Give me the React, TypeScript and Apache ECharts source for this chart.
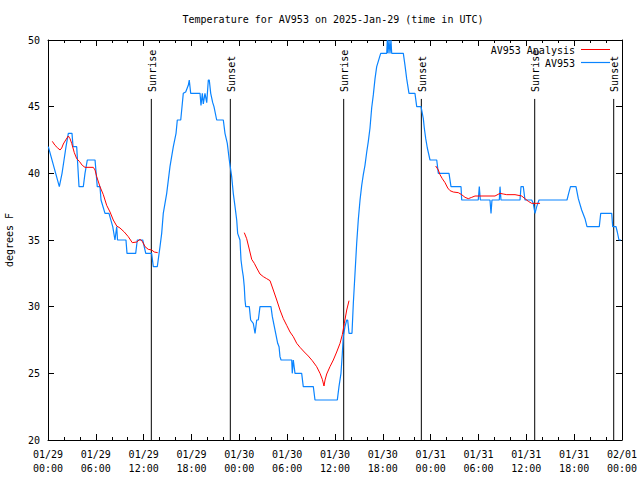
import React, { useEffect, useRef } from "react";
import * as echarts from "echarts";

const FONT = '"DejaVu Sans Mono", "Liberation Mono", monospace';

const titleText = "Temperature for AV953 on 2025-Jan-29 (time in UTC)";
const yAxisName = "degrees F";

// x axis: hours since 2025-01-29 00:00 UTC
const xTickLabels = [
  "01/29\n00:00", "01/29\n06:00", "01/29\n12:00", "01/29\n18:00",
  "01/30\n00:00", "01/30\n06:00", "01/30\n12:00", "01/30\n18:00",
  "01/31\n00:00", "01/31\n06:00", "01/31\n12:00", "01/31\n18:00",
  "02/01\n00:00",
];

// AV953 observations
const obsHours = [
  0.04, 1.42, 1.76, 2.01, 2.26, 2.55, 3.01, 3.14, 3.6, 3.89, 4.43, 4.64, 4.93, 5.9, 6.18, 6.52,
  6.65, 7.15, 7.65, 8.12, 8.4, 8.62, 8.72, 9.78, 9.91, 11.0, 11.2, 11.88, 12.26, 13.0, 13.21, 13.71,
  14.05, 14.26, 14.46, 14.89, 15.3, 15.72, 16.06, 16.22, 16.65, 16.77, 16.97, 17.27, 17.6, 17.72, 17.9, 19.07,
  19.19, 19.36, 19.48, 19.69, 19.91, 20.11, 20.23, 20.41, 20.66, 20.82, 21.16, 21.99, 22.2, 22.49, 22.74, 23.04,
  23.24, 23.46, 23.67, 23.79, 24.08, 24.21, 24.37, 24.5, 24.62, 24.71, 24.8, 25.25, 25.42, 25.75, 25.97, 26.18,
  26.38, 26.59, 27.97, 28.14, 28.39, 28.56, 28.81, 28.98, 29.1, 29.23, 30.57, 30.64, 30.77, 30.98, 31.82, 32.02,
  33.28, 33.49, 36.29, 36.5, 36.75, 36.92, 37.04, 37.25, 37.47, 37.59, 37.76, 38.13, 38.3, 38.51, 38.72, 38.92,
  39.14, 39.35, 39.55, 39.76, 39.98, 40.18, 40.39, 40.6, 40.81, 41.02, 41.23, 41.43, 41.73, 42.49, 42.56, 42.65,
  42.77, 42.9, 43.02, 43.11, 44.57, 44.78, 44.99, 45.28, 46.03, 46.25, 46.79, 47.08, 47.2, 47.38, 47.58, 47.92,
  48.76, 48.96, 50.3, 50.55, 51.81, 51.89, 53.97, 54.1, 54.23, 55.44, 55.57, 55.69, 56.61, 56.7, 56.82, 59.21,
  59.33, 59.62, 59.83, 60.67, 60.87, 61.09, 61.3, 61.59, 65.1, 65.31, 65.54, 66.23, 66.52, 66.94, 67.36, 67.61,
  69.15, 69.33, 70.71, 70.83, 71.25, 71.41, 71.62, 71.87,
];
const obsTemps = [
  42, 39, 40, 41, 42, 43, 43, 42, 42, 39, 39, 40, 41, 41, 39, 39,
  38, 37, 37, 36, 35, 36, 35, 35, 34, 34, 35, 35, 34, 34, 33, 33,
  34.5, 35.5, 37, 38.5, 40.5, 42, 43, 44, 44, 44.75, 46, 46.1, 46.6, 47, 46, 46,
  45.1, 46, 45.2, 46, 45.3, 47, 47, 46, 45.3, 45, 44, 44, 43, 42.25, 41, 39.75,
  38.5, 37.5, 36.5, 35.5, 35, 33.5, 32.75, 32.25, 31.5, 30.5, 30, 30, 29, 28.75, 28, 29,
  29, 30, 30, 29.25, 28.5, 28, 27.25, 27, 26.25, 26, 26, 25, 26, 25, 25, 24,
  24, 23, 23, 24, 25, 26.5, 27.75, 28.5, 29, 29, 28, 28, 30.25, 32.5, 34.75, 36.5,
  38, 39.1, 39.9, 40.6, 41.6, 42.4, 43.4, 44.9, 45.9, 47.1, 48, 48.4, 49, 49, 50, 49,
  50, 49, 50, 49, 49, 48.1, 47.1, 46, 46, 45, 45, 44.1, 43.4, 42.6, 41.9, 41,
  41, 40, 40, 39, 39, 38, 38, 39, 38, 38, 37, 38, 38, 39, 38, 38,
  39, 39, 38, 38, 37.75, 37, 37.5, 38, 38, 38.5, 39, 39, 38.1, 37.25, 36.6, 36,
  36, 37, 37, 36, 36, 35.6, 35, 35,
];

// AV953 Analysis (three separate runs)
const anaHours1 = [
  0.54, 0.88, 1.22, 1.51, 1.72, 1.92, 2.22, 2.55, 2.76, 2.97, 3.3, 3.6, 3.93, 4.3, 4.64, 5.68,
  5.9, 6.11, 6.52, 6.94, 7.36, 7.78, 8.19, 8.62, 9.03, 9.57, 10.07, 10.57, 11.13, 11.54, 11.83, 12.17,
  12.58, 13.01, 13.33, 13.76,
];
const anaTemps1 = [
  42.4, 42.1, 41.9, 41.75, 41.9, 42.2, 42.5, 42.8, 42.6, 42.25, 41.55, 41.1, 40.9, 40.6, 40.45, 40.45,
  40.25, 39.75, 39, 38.4, 37.6, 37.1, 36.5, 36.05, 35.9, 35.6, 35.25, 34.8, 34.85, 35.05, 34.9, 34.5,
  34.3, 34.25, 34.1, 34.05,
];
const anaHours2 = [
  24.62, 24.92, 25.21, 25.55, 25.88, 26.18, 26.59, 27.01, 27.43, 27.85, 28.26, 28.69, 29.1, 29.52, 29.94, 30.36,
  30.77, 31.2, 31.61, 32.15, 32.65, 33.15, 33.7, 34.12, 34.41, 34.62, 34.75, 34.96, 35.37, 35.79, 36.21, 36.63,
  36.92, 37.17, 37.47, 37.76,
];
const anaTemps2 = [
  35.55, 35.1, 34.4, 33.55, 33.25, 32.9, 32.45, 32.25, 32.1, 31.95, 31.25, 30.5, 29.75, 29.1, 28.6, 28.1,
  27.75, 27.25, 26.95, 26.6, 26.3, 25.95, 25.5, 25, 24.55, 24.05, 24.5, 24.95, 25.5, 26, 26.6, 27.25,
  27.9, 28.75, 29.75, 30.45,
];
const anaHours3 = [
  48.63, 48.96, 49.17, 49.46, 49.8, 50.14, 50.43, 50.84, 51.47, 51.89, 52.31, 52.72, 53.15, 53.56, 56.07, 56.7,
  57.11, 57.54, 58.58, 59.42, 59.83, 60.25, 60.67, 61.72,
];
const anaTemps3 = [
  40.55, 40.25, 39.9, 39.6, 39.3, 38.9, 38.7, 38.6, 38.55, 38.4, 38.2, 38.1, 38.2, 38.3, 38.3, 38.5,
  38.45, 38.4, 38.4, 38.3, 38.1, 37.9, 37.75, 37.75,
];

// Sunrise / sunset markers
const sunHours = [12.96, 22.87, 37.09, 46.83, 61.05, 70.96];
const sunLabels = ["Sunrise", "Sunset", "Sunrise", "Sunset", "Sunrise", "Sunset"];
const sunLineTop = 45.58;

const legendNames = ["AV953 Analysis", "AV953"];
const RED = "#ff0000";
const BLUE = "#0a84ff";

const zip = (xs: number[], ys: number[]) => xs.map((x, i) => [x, ys[i]]);

export default function App() {
  const ref = useRef<HTMLDivElement>(null);

  useEffect(() => {
    document.body.style.margin = "0";
    if (!ref.current) return;
    const chart = echarts.init(ref.current, null, { renderer: "svg" });

    const xBase = {
      type: "value" as const,
      min: 0,
      max: 72,
      interval: 6,
      splitLine: { show: false },
      axisLine: { show: true, onZero: false, lineStyle: { color: "#000", width: 1 } },
      axisTick: { show: true, inside: true, length: 6, lineStyle: { color: "#000" } },
      minorTick: { show: true, splitNumber: 3, length: 3, lineStyle: { color: "#000" } },
    };
    const yBase = {
      type: "value" as const,
      min: 20,
      max: 50,
      interval: 5,
      splitLine: { show: false },
      axisLine: { show: true, onZero: false, lineStyle: { color: "#000", width: 1 } },
      axisTick: { show: true, inside: true, length: 6, lineStyle: { color: "#000" } },
    };

    const lineSeries = (name: string, data: number[][], color: string, width: number) => ({
      type: "line" as const,
      name,
      data,
      showSymbol: false,
      symbol: "none",
      lineStyle: { color, width },
      itemStyle: { color },
      z: 3,
    });

    chart.setOption({
      animation: false,
      backgroundColor: "#fff",
      textStyle: { fontFamily: FONT, color: "#000" },
      grid: { left: 48, right: 18, top: 40, bottom: 40, containLabel: false, outerBoundsMode: "none" },
      xAxis: [
        {
          ...xBase,
          position: "bottom",
          axisLabel: {
            show: true,
            color: "#000",
            fontFamily: FONT,
            fontSize: 10,
            lineHeight: 14,
            margin: 7,
            formatter: (v: number) => xTickLabels[Math.round(v / 6)] ?? "",
          },
        },
        { ...xBase, position: "top", axisLabel: { show: false } },
      ],
      yAxis: [
        {
          ...yBase,
          position: "left",
          name: yAxisName,
          nameLocation: "middle",
          nameRotate: 90,
          nameGap: 34,
          nameTextStyle: { color: "#000", fontFamily: FONT, fontSize: 10 },
          axisLabel: { show: true, color: "#000", fontFamily: FONT, fontSize: 10, margin: 8 },
        },
        { ...yBase, position: "right", axisLabel: { show: false } },
      ],
      graphic: [
        {
          type: "text",
          x: 333,
          y: 19,
          style: {
            text: titleText,
            font: `10px ${FONT}`,
            fill: "#000",
            align: "center",
            verticalAlign: "middle",
          },
        },
        {
          type: "text",
          x: 575,
          y: 50,
          style: { text: legendNames[0], font: `10px ${FONT}`, fill: "#000", align: "right", verticalAlign: "middle" },
        },
        {
          type: "line",
          shape: { x1: 581, y1: 49.5, x2: 610, y2: 49.5 },
          style: { stroke: RED, lineWidth: 1 },
        },
        {
          type: "text",
          x: 575,
          y: 63,
          style: { text: legendNames[1], font: `10px ${FONT}`, fill: "#000", align: "right", verticalAlign: "middle" },
        },
        {
          type: "line",
          shape: { x1: 581, y1: 62.5, x2: 610, y2: 62.5 },
          style: { stroke: BLUE, lineWidth: 1.2 },
        },
      ],
      series: [
        {
          type: "custom",
          name: "sun",
          z: 1,
          data: sunHours.map((h) => [h, sunLineTop]),
          renderItem: (params: any, api: any) => {
            const top = api.coord([api.value(0), sunLineTop]);
            const bot = api.coord([api.value(0), 20]);
            return {
              type: "group",
              children: [
                {
                  type: "line",
                  shape: { x1: top[0], y1: top[1], x2: bot[0], y2: bot[1] },
                  style: { stroke: "#000", lineWidth: 1 },
                },
                {
                  type: "text",
                  x: top[0] + 1,
                  y: top[1] - 7,
                  rotation: Math.PI / 2,
                  style: {
                    text: sunLabels[params.dataIndex],
                    font: `10px ${FONT}`,
                    fill: "#000",
                    align: "left",
                    verticalAlign: "middle",
                  },
                },
              ],
            };
          },
        },
        lineSeries("AV953", zip(obsHours, obsTemps), BLUE, 1.2),
        lineSeries("AV953 Analysis", zip(anaHours1, anaTemps1), RED, 1),
        lineSeries("AV953 Analysis", zip(anaHours2, anaTemps2), RED, 1),
        lineSeries("AV953 Analysis", zip(anaHours3, anaTemps3), RED, 1),
      ],
    });

    return () => chart.dispose();
  }, []);

  return <div ref={ref} style={{ width: 640, height: 480 }} />;
}
